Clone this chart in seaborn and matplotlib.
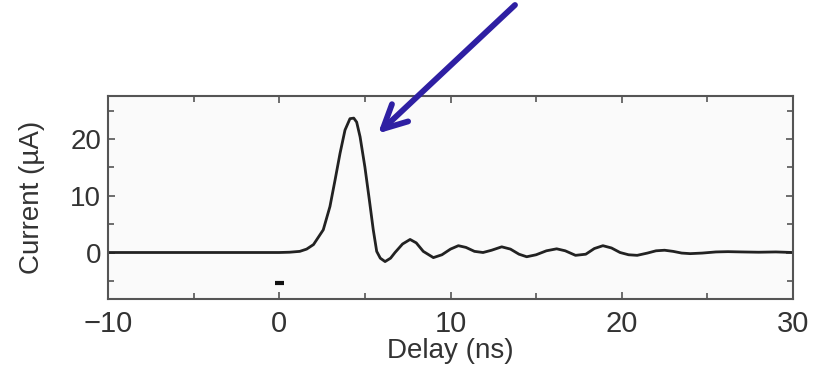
import matplotlib
matplotlib.use("Agg")
import matplotlib.pyplot as plt
import seaborn as sns
import pandas as pd

delay_ns = [-10, 0, 0.6, 1.2, 1.6, 2.0, 2.57, 2.96, 3.26, 3.55, 3.84, 4.13, 4.35, 4.52, 4.72,
            5.0, 5.26, 5.49, 5.69, 5.9, 6.18, 6.5, 6.76, 7.2, 7.64, 8.0, 8.41, 9.0, 9.5,
            10.0, 10.46, 10.9, 11.4, 11.9, 12.4, 12.99, 13.5, 14.0, 14.45, 15.0, 15.6,
            16.2, 16.7, 17.3, 17.9, 18.4, 18.9, 19.4, 19.9, 20.4, 20.9, 21.5, 22.0,
            22.5, 23.0, 23.5, 24.0, 24.7, 25.5, 26.2, 27.0, 28.0, 29.0, 30.0]
current_uA = [0, 0, 0.05, 0.2, 0.6, 1.4, 4.0, 8.1, 12.8, 17.5, 21.6, 23.6, 23.7, 23.0, 20.4,
              15.1, 9.3, 4.0, 0.2, -1.0, -1.6, -1.0, 0.0, 1.5, 2.3, 1.7, 0.2, -0.9, -0.4,
              0.6, 1.2, 0.9, 0.2, 0.0, 0.4, 1.0, 0.6, -0.3, -0.75, -0.4, 0.3,
              0.65, 0.3, -0.5, -0.3, 0.7, 1.2, 0.8, 0.0, -0.4, -0.5, -0.1, 0.3,
              0.4, 0.2, -0.1, -0.2, -0.1, 0.1, 0.15, 0.1, 0.05, 0.1, 0.0]

x_ticks = [-10, 0, 10, 20, 30]
x_tick_labels = ["\u221210", "0", "10", "20", "30"]
y_ticks = [0, 10, 20]
x_label = "Delay (ns)"
y_label = "Current (µA)"

sns.set_style("ticks")
plt.rcParams["font.family"] = ["Liberation Sans", "DejaVu Sans"]

df = pd.DataFrame({"delay": delay_ns, "current": current_uA})

fig = plt.figure(figsize=(8.15, 3.77), dpi=100)
ax = fig.add_axes([108 / 815, 1 - 299 / 377, (793 - 108) / 815, (299 - 96) / 377])
ax.set_facecolor("#fafafa")

sns.lineplot(data=df, x="delay", y="current", ax=ax, color="#222222", lw=2.0,
             sort=False)

ax.set_xlim(-10, 30)
ax.set_ylim(-8.2, 27.6)
ax.set_xticks(x_ticks)
ax.set_xticklabels(x_tick_labels)
ax.set_yticks(y_ticks)
ax.set_xticks([-5, 5, 15, 25], minor=True)
ax.set_yticks([-5, 5, 15, 25], minor=True)
ax.tick_params(which="both", direction="in", top=True, right=True,
               color="#555555", width=1.2)
ax.tick_params(which="major", length=5, labelcolor="#333333")
ax.tick_params(axis="x", which="major", labelsize=21, pad=8)
ax.tick_params(axis="y", which="major", labelsize=20, pad=5)
ax.tick_params(which="minor", length=4)
for s in ax.spines.values():
    s.set_color("#555555")
    s.set_linewidth(1.5)

ax.set_xlabel(x_label, fontsize=20, color="#333333", labelpad=0)
ax.set_ylabel(y_label, fontsize=20, color="#333333", labelpad=18)

# small marker at time zero
ax.plot([-0.25, 0.25], [-5.3, -5.3], color="#111111", lw=3, solid_capstyle="butt")

ax.annotate("", xy=(5.77, 21.0), xycoords="data",
            xytext=(515 / 815, 1 - 5 / 377), textcoords="figure fraction",
            arrowprops=dict(arrowstyle="->,head_length=1.7,head_width=0.85",
                            color="#2e1fa3", lw=4.2, shrinkA=0, shrinkB=0,
                            capstyle="round", joinstyle="round"),
            annotation_clip=False)

fig.savefig("out.png", dpi=100)
